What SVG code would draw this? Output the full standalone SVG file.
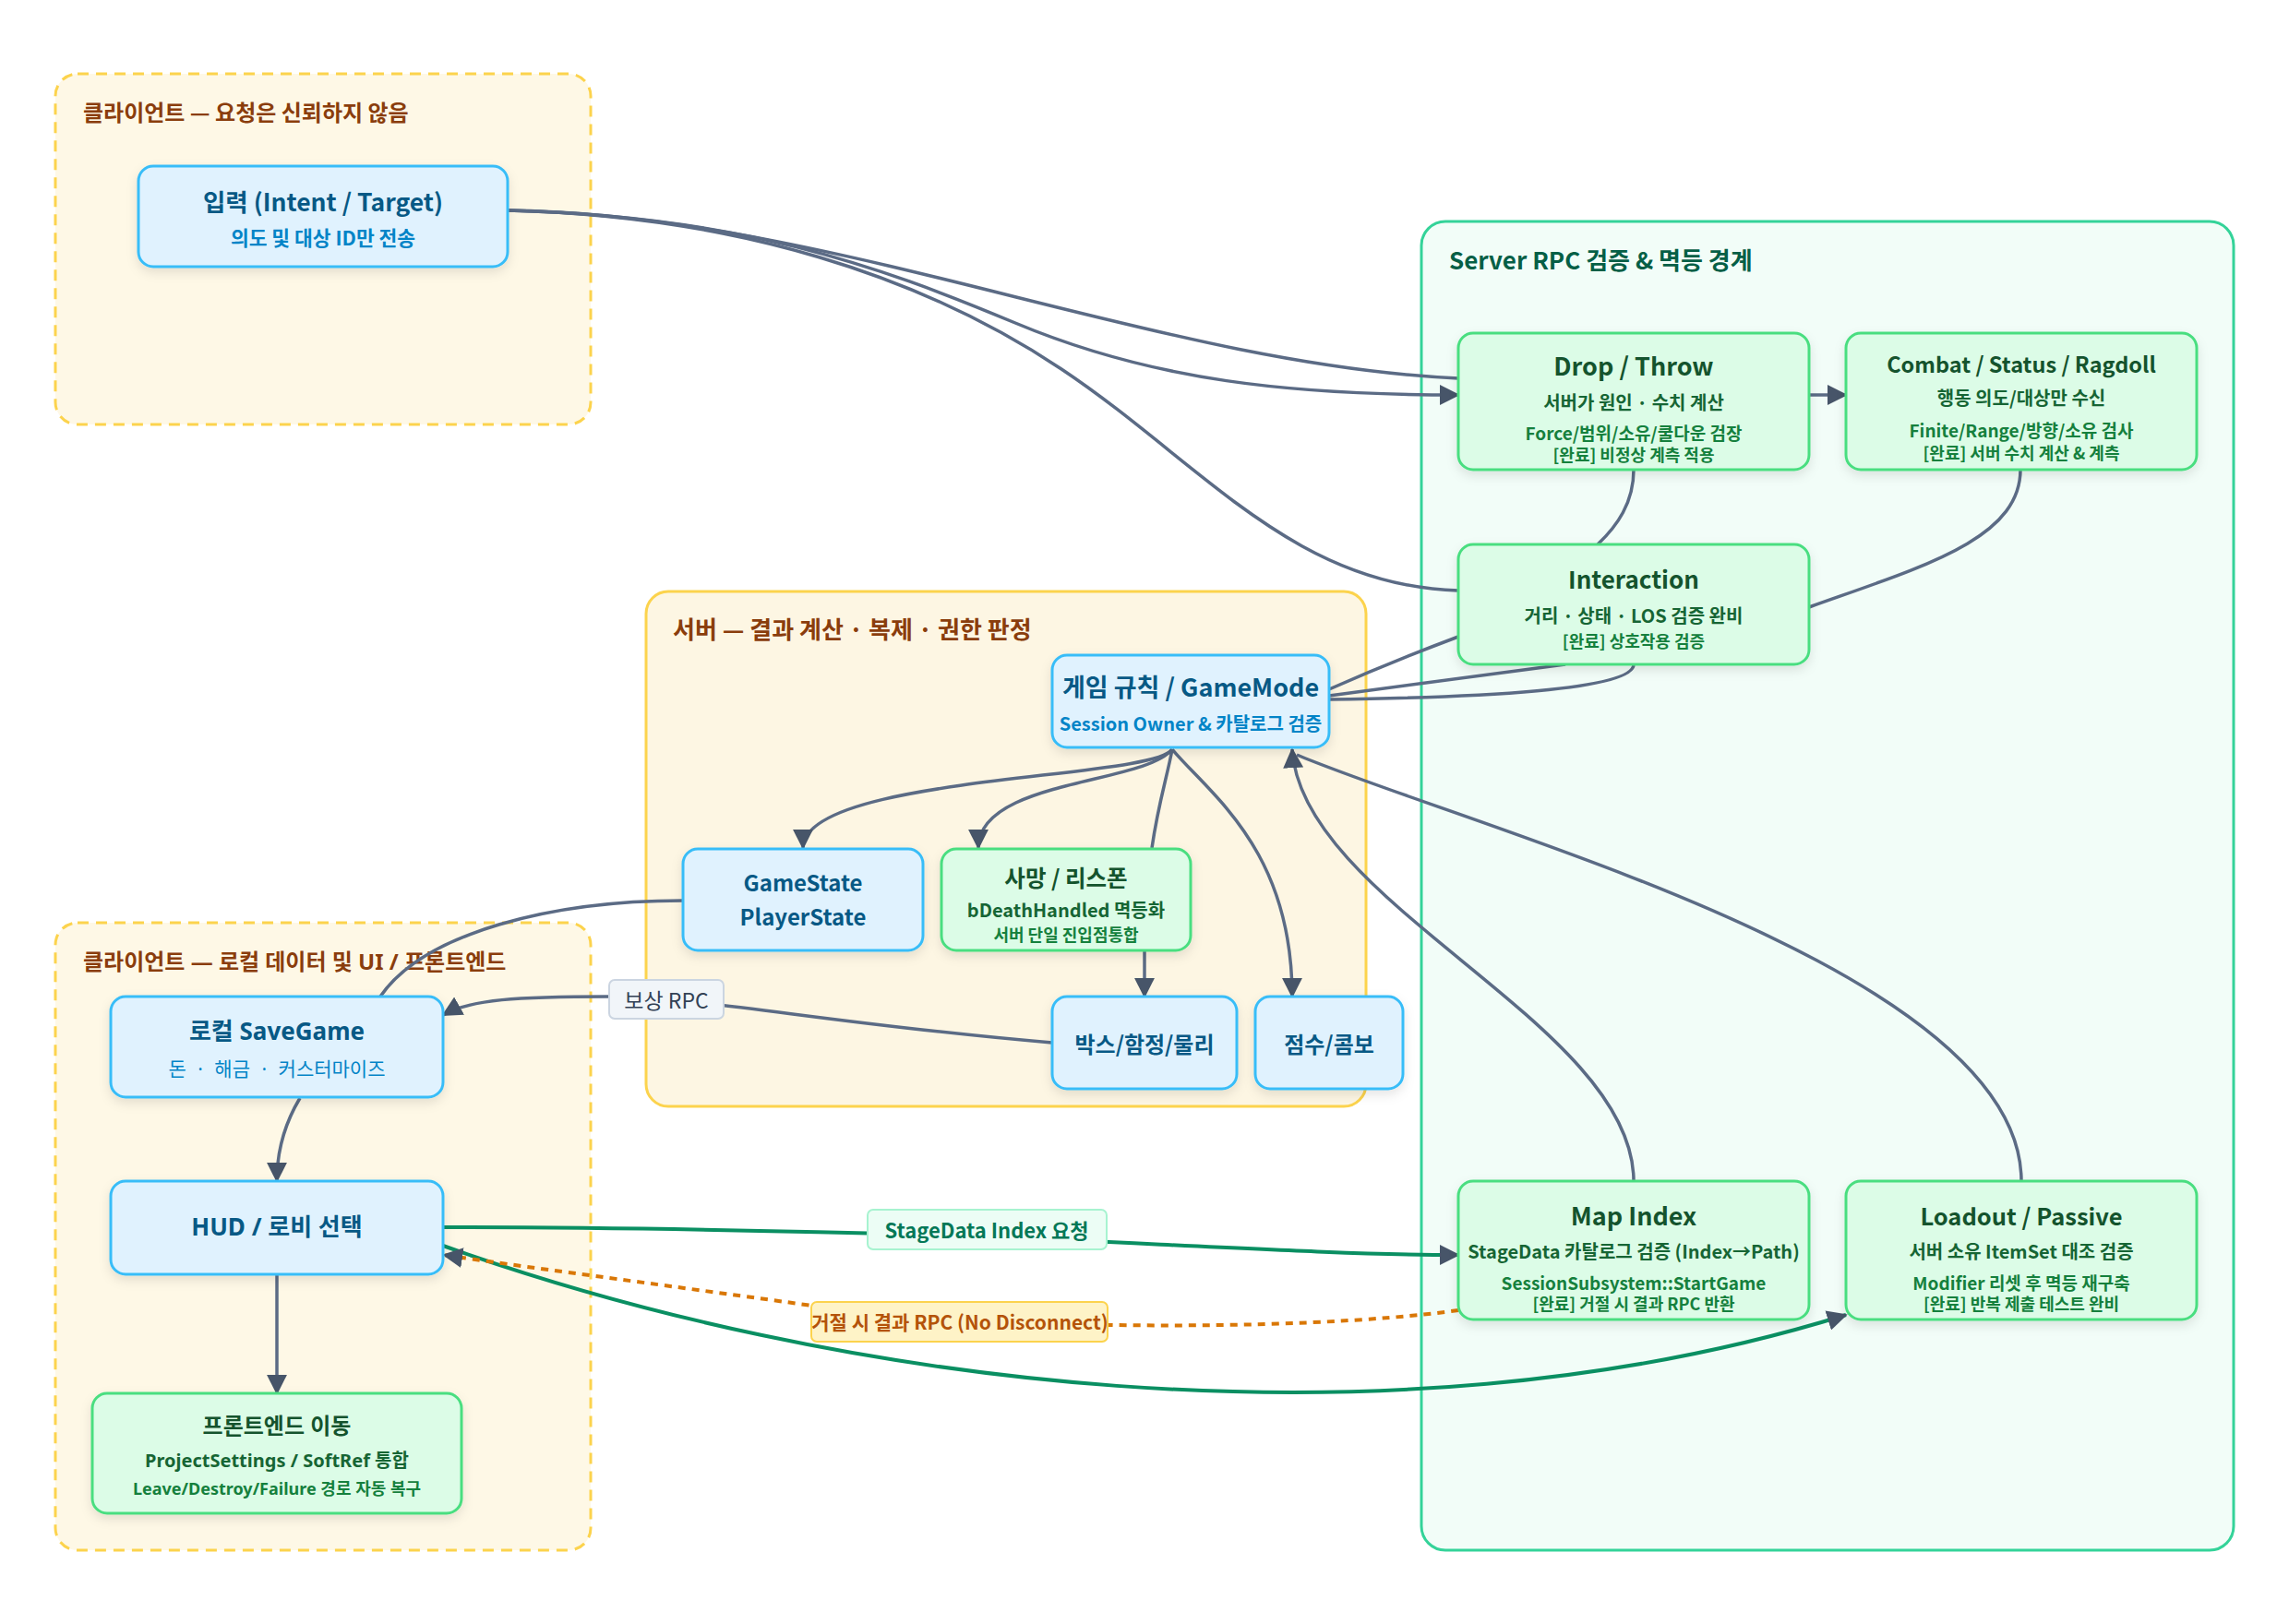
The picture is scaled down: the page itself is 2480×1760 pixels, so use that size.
<svg xmlns="http://www.w3.org/2000/svg" width="2480" height="1760" viewBox="0 0 2480 1760">
<defs>
<style>
text{font-family:"Noto Sans CJK KR","Noto Sans",sans-serif;dominant-baseline:central;}
.ct{font-size:24px;font-weight:700;fill:#8a3d0c;}
.cg{font-size:26px;font-weight:700;fill:#065f46;}
.clA{fill:#fef8e6;stroke:#fcd34d;stroke-width:3;stroke-dasharray:12 8;}
.clB{fill:#fdf6e3;stroke:#fcd34d;stroke-width:3;}
.clG{fill:#f2fdf8;stroke:#34d399;stroke-width:3;}
.nb{fill:#e0f2fe;stroke:#38bdf8;stroke-width:3;filter:url(#sh);}
.ng{fill:#dcfce7;stroke:#4ade80;stroke-width:3;filter:url(#sh);}
.bt{font-size:28px;font-weight:700;fill:#075985;text-anchor:middle;}
.bs{font-size:20px;font-weight:700;fill:#0284c7;text-anchor:middle;}
.gt{font-size:27px;font-weight:700;fill:#14532d;text-anchor:middle;}
.gs{font-size:20px;font-weight:700;fill:#166534;text-anchor:middle;}
.gx{font-size:18px;font-weight:700;fill:#15803d;text-anchor:middle;}
.wide{font-family:"Noto Sans","Noto Sans CJK KR",sans-serif;}
.e{fill:none;stroke:#5b6b85;stroke-width:3.5;}
.eg{fill:none;stroke:#0a8f62;stroke-width:4;}
.eo{fill:none;stroke:#d97706;stroke-width:4;stroke-dasharray:8 7;}
.lbl{font-size:21px;text-anchor:middle;}
</style>
<filter id="sh" x="-10%" y="-10%" width="120%" height="130%">
<feDropShadow dx="0" dy="5" stdDeviation="6" flood-color="#000" flood-opacity="0.10"/>
</filter>
<marker id="ar" viewBox="0 0 12 12" refX="11" refY="6" markerWidth="22" markerHeight="22" markerUnits="userSpaceOnUse" orient="auto">
<path d="M0,0 L12,6 L0,12 Z" fill="#475569"/>
</marker>
</defs>
<rect width="2480" height="1760" fill="#ffffff"/>

<g id="cluster-client-top">
<rect class="clA" x="60" y="80" width="580" height="380" rx="24"/>
<text class="ct" x="90" y="120">클라이언트 — 요청은 신뢰하지 않음</text>
</g>
<g id="cluster-server-rpc">
<rect class="clG" x="1540" y="240" width="880" height="1440" rx="26"/>
<text class="cg" x="1570" y="280">Server RPC 검증 &amp; 멱등 경계</text>
</g>
<g id="cluster-server">
<rect class="clB" x="700" y="641" width="780" height="558" rx="24"/>
<text class="ct" x="729" y="680" style="font-size:26px">서버 — 결과 계산 · 복제 · 권한 판정</text>
</g>
<g id="cluster-client-bottom">
<rect class="clA" x="60" y="1000" width="580" height="680" rx="24"/>
<text class="ct wide" x="90" y="1041">클라이언트 — 로컬 데이터 및 UI / 프론트엔드</text>
</g>

<g id="connectors">
<path class="e" d="M550,228 C900,232 1250,395 1580,410"/>
<path class="e" d="M550,228 C800,234 950,287 1100,350 S1400,428 1580,428" marker-end="url(#ar)"/>
<path class="e" d="M550,228 C800,234 1000,300 1150,400 S1400,635 1580,640"/>
<path class="e" d="M1960,428 L2000,428" marker-end="url(#ar)"/>
<path class="e" d="M1770,509 C1770,545 1752,570 1731,590"/>
<path class="e" d="M2189,509 C2189,585 2080,615 1960,658"/>
<path class="e" d="M1440,747 C1490,725 1540,705 1580,690"/>
<path class="e" d="M1440,754 C1550,740 1640,728 1696,720"/>
<path class="e" d="M1440,758 C1600,756 1770,748 1770,720"/>
<path class="e" d="M1270,812 C1250,845 870,840 870,919" marker-end="url(#ar)"/>
<path class="e" d="M1270,812 C1240,850 1060,845 1060,919" marker-end="url(#ar)"/>
<path class="e" d="M1248,919 C1255,870 1265,840 1270,812"/>
<path class="e" d="M1270,812 C1310,860 1400,920 1400,1080" marker-end="url(#ar)"/>
<path class="e" d="M1240,1030 L1240,1080" marker-end="url(#ar)"/>
<path class="e" d="M1770,1280 C1770,1110 1410,980 1400,812" marker-end="url(#ar)"/>
<path class="e" d="M2190,1280 C2190,1050 1600,900 1405,818"/>
<path class="e" d="M740,976 C600,976 460,1010 412,1080"/>
<path class="e" d="M1140,1130 C900,1110 760,1080 660,1080 C560,1080 510,1083 480,1100" marker-end="url(#ar)"/>
<path class="e" d="M325,1190 C310,1215 300,1245 300,1280" marker-end="url(#ar)"/>
<path class="e" d="M300,1381 L300,1510" marker-end="url(#ar)"/>
<path class="eg" d="M480,1330 C700,1330 900,1335 1070,1340 C1300,1350 1450,1360 1580,1360" marker-end="url(#ar)"/>
<path class="eg" d="M480,1350 C900,1500 1500,1580 2000,1425" marker-end="url(#ar)"/>
<path class="eo" d="M1580,1420 C1400,1445 1050,1440 880,1415 C700,1390 560,1372 481,1360" marker-end="url(#ar)"/>
<g id="label-reward">
<rect x="660" y="1062" width="124" height="42" rx="6" fill="#f1f5f9" stroke="#cbd5e1" stroke-width="2"/>
<text class="lbl" x="722" y="1083" fill="#334155" style="font-size:23px">보상 RPC</text>
</g>
<g id="label-stagedata">
<rect x="940" y="1311" width="259" height="43" rx="6" fill="#ecfdf5" stroke="#a7f3d0" stroke-width="2"/>
<text class="lbl" x="1069" y="1332" fill="#047857" font-weight="700" style="font-size:22px">StageData Index 요청</text>
</g>
<g id="label-reject">
<rect x="879" y="1411" width="321" height="43" rx="6" fill="#fef3c7" stroke="#fcd34d" stroke-width="2"/>
<text class="lbl" x="1040" y="1432" fill="#b45309" font-weight="700">거절 시 결과 RPC (No Disconnect)</text>
</g>
</g>

<g id="node-input">
<rect class="nb" x="150" y="180" width="400" height="109" rx="16"/>
<text class="bt" x="350" y="217" style="font-size:26.5px">입력 (Intent / Target)</text>
<text class="bs" x="350" y="256" style="font-size:21.5px">의도 및 대상 ID만 전송</text>
</g>
<g id="node-drop">
<rect class="ng" x="1580" y="361" width="380" height="148" rx="16"/>
<text class="gt" x="1770" y="395">Drop / Throw</text>
<text class="gs" x="1770" y="435">서버가 원인 · 수치 계산</text>
<text class="gx" x="1770" y="468" style="font-size:19px">Force/범위/소유/쿨다운 검장</text>
<text class="gx" x="1770" y="492">[완료] 비정상 계측 적용</text>
</g>
<g id="node-combat">
<rect class="ng" x="2000" y="361" width="380" height="148" rx="16"/>
<text class="gt" x="2190" y="394" style="font-size:23.5px">Combat / Status / Ragdoll</text>
<text class="gs" x="2190" y="430">행동 의도/대상만 수신</text>
<text class="gx" x="2190" y="465" style="font-size:19px">Finite/Range/방향/소유 검사</text>
<text class="gx" x="2190" y="490">[완료] 서버 수치 계산 &amp; 계측</text>
</g>
<g id="node-interaction">
<rect class="ng" x="1580" y="590" width="380" height="130" rx="16"/>
<text class="gt" x="1770" y="626" style="font-size:26px">Interaction</text>
<text class="gs" x="1770" y="666">거리 · 상태 · LOS 검증 완비</text>
<text class="gx" x="1770" y="694">[완료] 상호작용 검증</text>
</g>
<g id="node-mapindex">
<rect class="ng" x="1580" y="1280" width="380" height="150" rx="16"/>
<text class="gt" x="1770" y="1316">Map Index</text>
<text class="gs" x="1770" y="1355">StageData 카탈로그 검증 (Index→Path)</text>
<text class="gx" x="1770" y="1389" style="font-size:19px">SessionSubsystem::StartGame</text>
<text class="gx" x="1770" y="1412">[완료] 거절 시 결과 RPC 반환</text>
</g>
<g id="node-loadout">
<rect class="ng" x="2000" y="1280" width="380" height="150" rx="16"/>
<text class="gt" x="2190" y="1316" style="font-size:25.5px">Loadout / Passive</text>
<text class="gs" x="2190" y="1355">서버 소유 ItemSet 대조 검증</text>
<text class="gx" x="2190" y="1389" style="font-size:19px">Modifier 리셋 후 멱등 재구축</text>
<text class="gx" x="2190" y="1412">[완료] 반복 제출 테스트 완비</text>
</g>
<g id="node-gamemode">
<rect class="nb" x="1140" y="710" width="300" height="100" rx="16"/>
<text class="bt" x="1290" y="743" style="font-size:27px">게임 규칙 / GameMode</text>
<text class="bs" x="1290" y="783">Session Owner &amp; 카탈로그 검증</text>
</g>
<g id="node-gamestate">
<rect class="nb" x="740" y="920" width="260" height="110" rx="16"/>
<text class="bt" x="870" y="955" style="font-size:24px">GameState</text>
<text class="bt" x="870" y="992" style="font-size:24px">PlayerState</text>
</g>
<g id="node-death">
<rect class="ng" x="1020" y="920" width="270" height="110" rx="16"/>
<text class="gt" x="1155" y="950" style="font-size:24.5px">사망 / 리스폰</text>
<text class="gs" x="1155" y="985">bDeathHandled 멱등화</text>
<text class="gx" x="1155" y="1012">서버 단일 진입점통합</text>
</g>
<g id="node-box">
<rect class="nb" x="1140" y="1080" width="200" height="100" rx="16"/>
<text class="bt" x="1240" y="1130" style="font-size:24px">박스/함정/물리</text>
</g>
<g id="node-score">
<rect class="nb" x="1360" y="1080" width="160" height="100" rx="16"/>
<text class="bt" x="1440" y="1130" style="font-size:24px">점수/콤보</text>
</g>
<g id="node-savegame">
<rect class="nb" x="120" y="1080" width="360" height="109" rx="16"/>
<text class="bt wide" x="300" y="1117" style="font-size:26px">로컬 SaveGame</text>
<text class="bs wide" x="300" y="1158" style="font-weight:400;font-size:21px;word-spacing:7px">돈 · 해금 · 커스터마이즈</text>
</g>
<g id="node-hud">
<rect class="nb" x="120" y="1280" width="360" height="101" rx="16"/>
<text class="bt wide" x="300" y="1329" style="font-size:26px">HUD / 로비 선택</text>
</g>
<g id="node-frontend">
<rect class="ng" x="100" y="1510" width="400" height="130" rx="16"/>
<text class="gt wide" x="300" y="1544" style="font-size:24px">프론트엔드 이동</text>
<text class="gs wide" x="300" y="1582">ProjectSettings / SoftRef 통합</text>
<text class="gx wide" x="300" y="1613">Leave/Destroy/Failure 경로 자동 복구</text>
</g>
</svg>
